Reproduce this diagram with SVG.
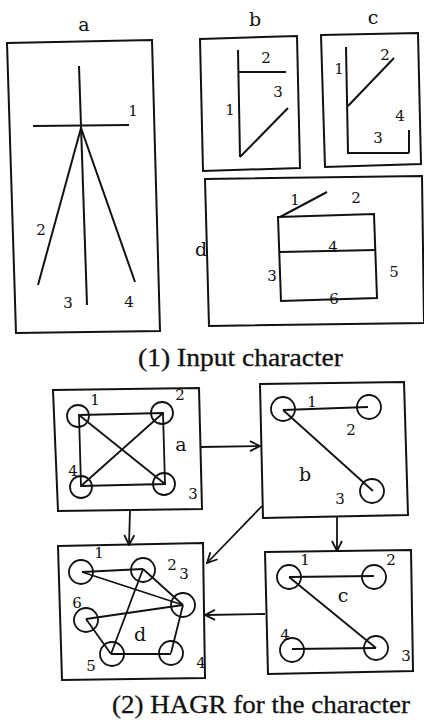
<svg xmlns="http://www.w3.org/2000/svg" width="424" height="722" viewBox="0 0 424 722">
<style>
.bx{fill:none;stroke:#111;stroke-width:2}
.st{fill:none;stroke:#111;stroke-width:2}
.ed{fill:none;stroke:#111;stroke-width:1.8}
.nd{fill:none;stroke:#111;stroke-width:1.8}
.lb{font-family:"DejaVu Serif","Liberation Serif",serif;font-size:15px;fill:#111}
.tt{font-family:"DejaVu Serif","Liberation Serif",serif;font-size:19px;fill:#111}
.cap{font-family:"Liberation Serif","DejaVu Serif",serif;font-size:25px;fill:#111;stroke:#111;stroke-width:0.3}
.cn{fill:none;stroke:#111;stroke-width:1.8}
</style>
<defs>
<marker id="ah" viewBox="0 0 12 12" refX="11" refY="6" markerWidth="12" markerHeight="12" markerUnits="userSpaceOnUse" orient="auto">
<path d="M1,1 L11,6 L1,11" fill="none" stroke="#111" stroke-width="1.8"/>
</marker>
</defs>
<rect width="424" height="722" fill="#fff"/>

<!-- (1) Input character -->
<g id="input-a">
<text class="tt" x="84" y="31" text-anchor="middle">a</text>
<path class="bx" d="M7,43 L152,40 L160,331 L16,333 Z"/>
<line class="st" x1="79" y1="66" x2="87" y2="305"/>
<line class="st" x1="33" y1="126" x2="129" y2="125"/>
<line class="st" x1="81" y1="128" x2="38" y2="285"/>
<line class="st" x1="81" y1="128" x2="135" y2="282"/>
<text class="lb" x="133" y="116" text-anchor="middle">1</text>
<text class="lb" x="41" y="235" text-anchor="middle">2</text>
<text class="lb" x="68" y="308" text-anchor="middle">3</text>
<text class="lb" x="129" y="307" text-anchor="middle">4</text>
</g>
<g id="input-b">
<text class="tt" x="255" y="26" text-anchor="middle">b</text>
<path class="bx" d="M200,39 L297,36 L300,168 L203,171 Z"/>
<line class="st" x1="238" y1="50" x2="240" y2="157"/>
<line class="st" x1="238" y1="72" x2="286" y2="72"/>
<line class="st" x1="240" y1="157" x2="288" y2="108"/>
<text class="lb" x="266" y="63" text-anchor="middle">2</text>
<text class="lb" x="230" y="115" text-anchor="middle">1</text>
<text class="lb" x="278" y="97" text-anchor="middle">3</text>
</g>
<g id="input-c">
<text class="tt" x="373" y="24" text-anchor="middle">c</text>
<path class="bx" d="M321,35 L418,33 L421,164 L325,167 Z"/>
<line class="st" x1="346" y1="47" x2="348" y2="153"/>
<line class="st" x1="347" y1="153" x2="409" y2="153"/>
<line class="st" x1="409" y1="130" x2="409" y2="153"/>
<line class="st" x1="348" y1="106" x2="394" y2="58"/>
<text class="lb" x="339" y="74" text-anchor="middle">1</text>
<text class="lb" x="385" y="60" text-anchor="middle">2</text>
<text class="lb" x="378" y="143" text-anchor="middle">3</text>
<text class="lb" x="400" y="121" text-anchor="middle">4</text>
</g>
<g id="input-d">
<path class="bx" d="M205,179 L422,176 L424,323 L209,326 Z"/>
<text class="tt" x="201" y="256" text-anchor="middle">d</text>
<path class="st" d="M278,217 L374,214 L377,298 L281,301 Z"/>
<line class="st" x1="280" y1="252" x2="376" y2="250"/>
<line class="st" x1="280" y1="217" x2="327" y2="192"/>
<text class="lb" x="295" y="205" text-anchor="middle">1</text>
<text class="lb" x="356" y="203" text-anchor="middle">2</text>
<text class="lb" x="272" y="281" text-anchor="middle">3</text>
<text class="lb" x="333" y="252" text-anchor="middle">4</text>
<text class="lb" x="394" y="277" text-anchor="middle">5</text>
<text class="lb" x="334" y="304" text-anchor="middle">6</text>
</g>
<text class="cap" x="138" y="366" textLength="205" lengthAdjust="spacingAndGlyphs">(1) Input character</text>

<!-- (2) HAGR -->
<g id="connectors">
<line class="cn" x1="200" y1="447" x2="260" y2="446" marker-end="url(#ah)"/>
<line class="cn" x1="130" y1="510" x2="129" y2="545" marker-end="url(#ah)"/>
<line class="cn" x1="337" y1="517" x2="337" y2="551" marker-end="url(#ah)"/>
<line class="cn" x1="262" y1="506" x2="207" y2="563" marker-end="url(#ah)"/>
<line class="cn" x1="265" y1="614" x2="205" y2="615" marker-end="url(#ah)"/>
</g>
<g id="hagr-a">
<path class="bx" d="M53,390 L199,388 L202,509 L58,511 Z"/>
<circle class="nd" cx="78" cy="416" r="11"/>
<circle class="nd" cx="162" cy="413" r="11"/>
<circle class="nd" cx="164" cy="484" r="11"/>
<circle class="nd" cx="81" cy="487" r="11"/>
<path class="ed" d="M79,415 L163,413 L165,484 L81,486 Z"/>
<line class="ed" x1="79" y1="415" x2="165" y2="484"/>
<line class="ed" x1="163" y1="413" x2="81" y2="486"/>
<text class="lb" x="95" y="405" text-anchor="middle">1</text>
<text class="lb" x="180" y="400" text-anchor="middle">2</text>
<text class="lb" x="193" y="499" text-anchor="middle">3</text>
<text class="lb" x="73" y="476" text-anchor="middle">4</text>
<text class="tt" x="181" y="451" text-anchor="middle">a</text>
</g>
<g id="hagr-b">
<path class="bx" d="M260,384 L404,382 L408,515 L263,518 Z"/>
<circle class="nd" cx="283" cy="409" r="12"/>
<circle class="nd" cx="369" cy="407" r="12"/>
<circle class="nd" cx="372" cy="491" r="12"/>
<line class="ed" x1="283" y1="410" x2="368" y2="407"/>
<line class="ed" x1="283" y1="410" x2="373" y2="491"/>
<text class="lb" x="312" y="407" text-anchor="middle">1</text>
<text class="lb" x="351" y="435" text-anchor="middle">2</text>
<text class="lb" x="340" y="504" text-anchor="middle">3</text>
<text class="tt" x="305" y="481" text-anchor="middle">b</text>
</g>
<g id="hagr-c">
<path class="bx" d="M265,552 L411,550 L413,671 L268,674 Z"/>
<circle class="nd" cx="289" cy="577" r="12"/>
<circle class="nd" cx="374" cy="577" r="12"/>
<circle class="nd" cx="376" cy="648" r="12"/>
<circle class="nd" cx="292" cy="650" r="12"/>
<line class="ed" x1="289" y1="577" x2="374" y2="576"/>
<line class="ed" x1="289" y1="577" x2="376" y2="648"/>
<line class="ed" x1="292" y1="649" x2="376" y2="648"/>
<text class="lb" x="305" y="565" text-anchor="middle">1</text>
<text class="lb" x="391" y="565" text-anchor="middle">2</text>
<text class="lb" x="406" y="661" text-anchor="middle">3</text>
<text class="lb" x="285" y="640" text-anchor="middle">4</text>
<text class="tt" x="343" y="602" text-anchor="middle">c</text>
</g>
<g id="hagr-d">
<path class="bx" d="M58,546 L203,543 L205,678 L62,680 Z"/>
<circle class="nd" cx="81" cy="572" r="12"/>
<circle class="nd" cx="143" cy="570" r="12"/>
<circle class="nd" cx="183" cy="605" r="12"/>
<circle class="nd" cx="86" cy="620" r="12"/>
<circle class="nd" cx="112" cy="654" r="12"/>
<circle class="nd" cx="171" cy="653" r="12"/>
<line class="ed" x1="82" y1="572" x2="143" y2="569"/>
<line class="ed" x1="82" y1="572" x2="183" y2="605"/>
<line class="ed" x1="143" y1="569" x2="183" y2="605"/>
<line class="ed" x1="143" y1="569" x2="111" y2="654"/>
<line class="ed" x1="86" y1="619" x2="183" y2="605"/>
<line class="ed" x1="86" y1="619" x2="111" y2="654"/>
<line class="ed" x1="111" y1="654" x2="171" y2="654"/>
<line class="ed" x1="171" y1="653" x2="183" y2="605"/>
<text class="lb" x="99" y="558" text-anchor="middle">1</text>
<text class="lb" x="172" y="570" text-anchor="middle">2</text>
<text class="lb" x="184" y="579" text-anchor="middle">3</text>
<text class="lb" x="201" y="668" text-anchor="middle">4</text>
<text class="lb" x="91" y="671" text-anchor="middle">5</text>
<text class="lb" x="77" y="608" text-anchor="middle">6</text>
<text class="tt" x="140" y="641" text-anchor="middle">d</text>
</g>
<text class="cap" x="112" y="713" textLength="298" lengthAdjust="spacingAndGlyphs">(2) HAGR for the character</text>
</svg>
